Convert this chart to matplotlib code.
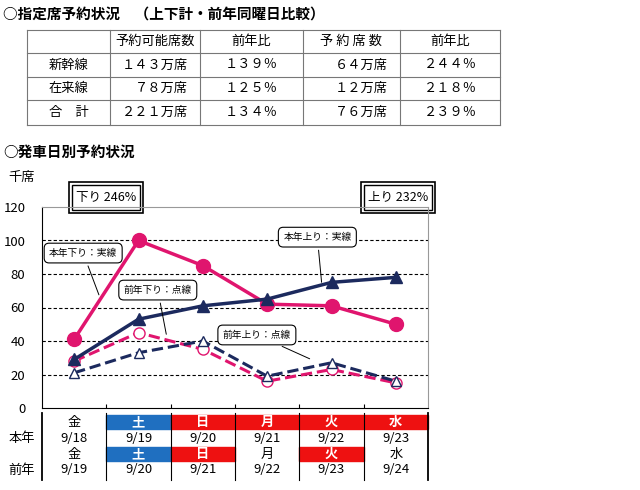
import matplotlib.pyplot as plt
from matplotlib.patches import Rectangle

plt.rcParams["font.family"] = "Noto Sans CJK JP"

# top table
col_heads = ["", "予約可能席数", "前年比", "予 約 席 数", "前年比"]
row_names = ["新幹線", "在来線", "合　計"]
avail = ["１４３万席", "７８万席", "２２１万席"]
avail_ratio = ["１３９％", "１２５％", "１３４％"]
booked = ["６４万席", "１２万席", "７６万席"]
booked_ratio = ["２４４％", "２１８％", "２３９％"]

# chart data (thousand seats)
cur_down = [41, 100, 85, 62, 61, 50]
cur_up = [29, 53, 61, 65, 75, 78]
prev_down = [28, 45, 35, 16, 23, 15]
prev_up = [21, 33, 40, 19, 27, 16]

days_cur = ["金", "土", "日", "月", "火", "水"]
dates_cur = ["9/18", "9/19", "9/20", "9/21", "9/22", "9/23"]
days_prev = ["金", "土", "日", "月", "火", "水"]
dates_prev = ["9/19", "9/20", "9/21", "9/22", "9/23", "9/24"]
fill_cur = [None, "#1f6fc0", "#ee1111", "#ee1111", "#ee1111", "#ee1111"]
fill_prev = [None, "#1f6fc0", "#ee1111", None, "#ee1111", None]

PINK = "#e0156e"
NAVY = "#1c2a5e"

fig = plt.figure(figsize=(6.4, 4.9), dpi=100)
bg = fig.add_axes([0, 0, 1, 1])
bg.set_xlim(0, 640)
bg.set_ylim(490, 0)
bg.axis("off")

bg.text(3, 15, "○指定席予約状況　（上下計・前年同曜日比較）", fontsize=10.5,
        fontweight="bold", va="center")
bg.text(3, 152, "○発車日別予約状況", fontsize=10.5, fontweight="bold", va="center")
bg.text(8, 177, "千席", fontsize=9.5, va="center")

xs = [27, 110, 200, 303, 400, 500]
ys = [30, 53, 77, 100, 125]
for x in xs:
    bg.plot([x, x], [ys[0], ys[-1]], color="#777", lw=0.8)
for y in ys:
    bg.plot([xs[0], xs[-1]], [y, y], color="#777", lw=0.8)
for j, h in enumerate(col_heads):
    bg.text((xs[j] + xs[j + 1]) / 2, (ys[0] + ys[1]) / 2, h, ha="center",
            va="center", fontsize=9.5)
for i in range(3):
    cy = (ys[i + 1] + ys[i + 2]) / 2
    bg.text((xs[0] + xs[1]) / 2, cy, row_names[i], ha="center", va="center", fontsize=9.5)
    bg.text(xs[2] - 12, cy, avail[i], ha="right", va="center", fontsize=9.5)
    bg.text((xs[2] + xs[3]) / 2, cy, avail_ratio[i], ha="center", va="center", fontsize=9.5)
    bg.text(xs[4] - 12, cy, booked[i], ha="right", va="center", fontsize=9.5)
    bg.text((xs[4] + xs[5]) / 2, cy, booked_ratio[i], ha="center", va="center", fontsize=9.5)

# percentage boxes with double border
for cx, label in [(106, "下り 246%"), (398, "上り 232%")]:
    bg.add_patch(Rectangle((cx - 37, 182), 74, 31, fill=False, lw=1.2, ec="black"))
    bg.add_patch(Rectangle((cx - 34, 185), 68, 25, fill=True, fc="white", lw=1.0, ec="black"))
    bg.text(cx, 197, label, ha="center", va="center", fontsize=9)

# date rows
left, cw = 42, (428 - 42) / 6
rows_y = [(415, 429), (429, 447), (447, 461), (461, 478)]
for i in range(6):
    cx = left + cw * (i + 0.5)
    for (y0, y1), txt, fill in [(rows_y[0], days_cur[i], fill_cur[i]),
                                (rows_y[1], dates_cur[i], None),
                                (rows_y[2], days_prev[i], fill_prev[i]),
                                (rows_y[3], dates_prev[i], None)]:
        if fill:
            bg.add_patch(Rectangle((left + cw * i, y0), cw, y1 - y0, color=fill))
        bg.text(cx, (y0 + y1) / 2, txt, ha="center", va="center", fontsize=9.5,
                color="white" if fill else "black", fontweight="bold" if fill else "normal")
for i in range(7):
    x = left + cw * i
    bg.plot([x, x], [413, 480], color="black", lw=0.8 if 0 < i < 6 else 1.3)
bg.text(22, 438, "本年", ha="center", va="center", fontsize=9.5)
bg.text(22, 470, "前年", ha="center", va="center", fontsize=9.5)

# chart
ax = fig.add_axes([42 / 640, (490 - 408) / 490, 386 / 640, 201 / 490])
ax.patch.set_alpha(0)
x = range(len(cur_down))
ax.set_xlim(-0.5, 5.5)
ax.set_ylim(0, 120)
ax.set_yticks(range(0, 121, 20))
ax.set_xticks([0.5, 1.5, 2.5, 3.5, 4.5])
ax.set_xticklabels([])
ax.tick_params(axis="y", length=0, labelsize=9.5, pad=12)
ax.tick_params(axis="x", length=3, direction="in")
for y in range(20, 101, 20):
    ax.axhline(y, color="black", ls=(0, (3, 2)), lw=0.8, zorder=0)
for s in ["top", "right"]:
    ax.spines[s].set_color("#999")

ax.plot(x, prev_down, color=PINK, ls="--", lw=2.2, marker="o", ms=8, mfc="white", mec=PINK)
ax.plot(x, prev_up, color=NAVY, ls="--", lw=2.2, marker="^", ms=7, mfc="white", mec=NAVY)
ax.plot(x, cur_down, color=PINK, lw=2.5, marker="o", ms=10)
ax.plot(x, cur_up, color=NAVY, lw=2.5, marker="^", ms=9)

box = dict(boxstyle="round,pad=0.5", fc="white", ec="black", lw=0.8)
arrow = dict(arrowstyle="-", color="black", lw=0.7)
for txt, tpos, tgt in [("本年下り：実線", (0.14, 92.5), (0.4, 66)),
                       ("前年下り：点線", (1.3, 70.4), (1.44, 42.4)),
                       ("本年上り：実線", (3.78, 102), (3.85, 73.4)),
                       ("前年上り：点線", (2.84, 43.6), (3.7, 28.7))]:
    ax.annotate(txt, xy=tgt, xytext=tpos, ha="center", va="center", fontsize=7,
                bbox=box, arrowprops=arrow)

fig.savefig("out.png", dpi=100)
